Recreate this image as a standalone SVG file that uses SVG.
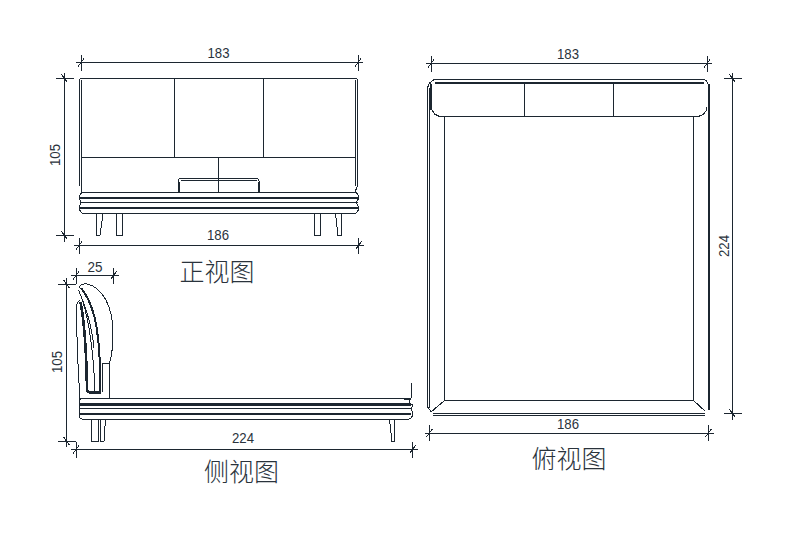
<svg xmlns="http://www.w3.org/2000/svg" width="790" height="540" viewBox="0 0 790 540">
<style>
path{shape-rendering:crispEdges}
.l{fill:none;stroke:#1c2630;stroke-width:1}
.t{fill:none;stroke:#1c2630;stroke-width:2.6}
.m{fill:none;stroke:#1c2630;stroke-width:2}
.n{font-family:"Liberation Sans",sans-serif;font-size:15px;fill:#2a333c;text-anchor:middle}
.c{font-family:"Noto Sans CJK SC",sans-serif;font-size:25px;fill:#2a333c;text-anchor:middle;font-weight:300}
</style>
<defs>
<path id="th" class="l" d="M-5 0H0M0 -8V8M-3 4L3 -4"/>
<path id="te" class="l" d="M0 0H5M0 -8V8M-3 4L3 -4"/>
<path id="vh" class="l" d="M-9 0H9M0 -6V0M-3 -4L3 4"/>
<path id="ve" class="l" d="M-9 0H9M0 0V6M-3 -4L3 4"/>
</defs>
<rect width="790" height="540" fill="#fff"/>
<g id="connectors">
<path class="l" d="M81 62.500H358"/><use href="#th" x="81" y="62.500"/><use href="#te" x="358" y="62.500"/>
<path class="l" d="M64.500 78.500V235"/><use href="#vh" x="64.500" y="78.500"/><use href="#ve" x="64.500" y="235.500"/>
<path class="l" d="M79 245.500H358.500"/><use href="#th" x="79" y="245.500"/><use href="#te" x="358.500" y="245.500"/>
<path class="l" d="M76 275.500H113.500"/><use href="#th" x="76" y="275.500"/><use href="#te" x="113.500" y="275.500"/>
<path class="l" d="M66.500 284V441"/><use href="#vh" x="66.500" y="284"/><use href="#ve" x="66.500" y="441"/>
<path class="l" d="M76 449.500H412.500"/><use href="#th" x="76" y="449.500"/><use href="#te" x="412.500" y="449.500"/>
<path class="l" d="M431 63.500H707"/><use href="#th" x="431" y="63.500"/><use href="#te" x="707" y="63.500"/>
<path class="l" d="M732.500 78.500V413.500"/><use href="#vh" x="732.500" y="78.500"/><use href="#ve" x="732.500" y="413.500"/>
<path class="l" d="M429.500 433H708.500"/><use href="#th" x="429.500" y="433"/><use href="#te" x="708.500" y="433"/>
</g>
<g id="front-view">
<path class="l" d="M79.500 186V80.500Q79.500 78.500 82 78.500H355Q357.500 78.500 357.500 81V186L355 192"/>
<path class="l" d="M81.500 192V186V80M355.500 80V186"/>
<path class="l" d="M174.500 78.500V157M263.500 78.500V157M81 157H356M218.500 157V192"/>
<path class="l" d="M178.500 192V181Q178.500 178 182 178H255Q259 178 259 181V192M181 180.500H256.500"/>
<path class="m" d="M178.500 182V192M259 182V192"/>
<path class="l" d="M83 192.500H355Q358.500 193 358.500 197.500Q358.500 200 356 202.500Q358.500 205 358.500 208Q358.500 212 355 213.500H83Q79.500 212 79.500 208Q79.500 205 81.500 202.500Q79.500 200 79.500 197.500Q79.500 193 83 192.500Z"/>
<path class="l" d="M80 202.500H358"/>
<path class="t" d="M80 197.800H358M80 207.800H358"/>
<path class="l" d="M96.500 213.500V235.500H100L103 213.500M116.500 213.500V235.500H122.500V213.500M314.500 213.500V235.500H320.500V213.500M335.500 213.500L338 235.500H341V213.500"/>
</g>
<g id="side-view">
<path class="l" d="M79 288Q81 283 87 284Q98 286 106 300Q113 314 113 332Q113 352 109.500 363H102.500V392"/>
<path class="l" d="M78.500 290Q92 320 95 391"/>
<path class="l" d="M83 301Q92 325 94 348"/>
<path class="m" d="M81 288Q93 303 97 330Q100.500 355 100.500 392"/>
<path class="t" d="M80.500 302Q86 330 87 388Q87 392.500 90 392.500H101"/>
<path class="l" d="M80 300.500Q76.500 302 76.500 308Q76.500 350 79.500 392V398.500M109.500 363V398.500"/>
<path class="l" d="M82 398.500H406Q410 398.500 410 403L412.500 405Q412.500 408 410.500 408.500Q412.500 410 412.500 414Q412.500 418 409 419H82Q79.500 419 79.500 416V401Q79.500 398.500 82 398.500Z"/>
<path class="l" d="M80 408.500H410M411.500 383V398"/>
<path class="m" d="M404 398.500H411"/>
<path class="t" d="M80 404.200H411M80 414H411"/>
<path class="l" d="M91.500 419V441.500H98V419M100.500 419V441.500H104L105.500 419M389.500 419L392 441.500H394.500V419"/>
</g>
<g id="top-view">
<path class="l" d="M427.500 90V407L431 411.500M429.500 88V408M444.500 116.500V400.500H693.500V116.500"/>
<path class="l" d="M431 412L444.500 400.500M705.500 411.500L693.500 400.500"/>
<path class="l" d="M433 413.500H705M433 415.500H705"/>
<path class="t" d="M708.800 84V410M431 84V110"/>
<path class="l" d="M427.500 90Q428 83 431 82M433 79.500H702Q707 79.500 708 84"/>
<path class="t" d="M435 83H704"/>
<path class="l" d="M430 84Q431 80 437 79.500M431 105Q432 116.500 442 116.500H698Q706 115 707 107"/>
<path class="l" d="M524.500 83V116.500M613.500 83V116.500"/>
</g>
<g id="labels">
<text class="n" x="218.500" y="58" textLength="22" lengthAdjust="spacingAndGlyphs">183</text>
<text class="n" x="218" y="240" textLength="22" lengthAdjust="spacingAndGlyphs">186</text>
<text class="n" x="95" y="272" textLength="15" lengthAdjust="spacingAndGlyphs">25</text>
<text class="n" x="243" y="443" textLength="22" lengthAdjust="spacingAndGlyphs">224</text>
<text class="n" x="568" y="59" textLength="22" lengthAdjust="spacingAndGlyphs">183</text>
<text class="n" x="568" y="429" textLength="22" lengthAdjust="spacingAndGlyphs">186</text>
<text class="n" transform="translate(60 155) rotate(-90)" textLength="22" lengthAdjust="spacingAndGlyphs">105</text>
<text class="n" transform="translate(62 362) rotate(-90)" textLength="22" lengthAdjust="spacingAndGlyphs">105</text>
<text class="n" transform="translate(729 246) rotate(-90)" textLength="22" lengthAdjust="spacingAndGlyphs">224</text>
<text class="c" x="217" y="281">正视图</text>
<text class="c" x="241.500" y="481">侧视图</text>
<text class="c" x="569" y="468">俯视图</text>
</g>
</svg>
